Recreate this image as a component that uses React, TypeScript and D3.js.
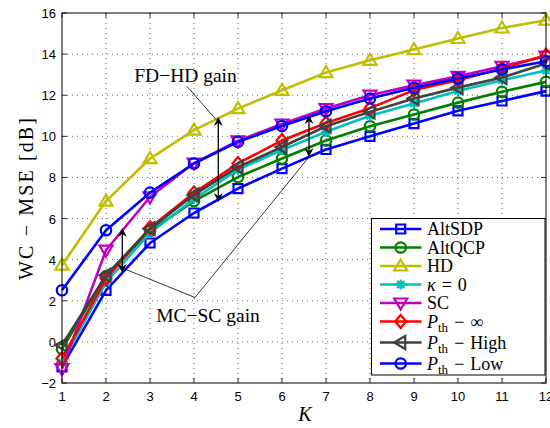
import React from 'react';
import * as d3 from 'd3';

const K = [1, 2, 3, 4, 5, 6, 7, 8, 9, 10, 11, 12];
const Y_TICKS = [-2, 0, 2, 4, 6, 8, 10, 12, 14, 16];

const altSDP = [-1.22, 2.51, 4.81, 6.27, 7.46, 8.43, 9.36, 10.0, 10.62, 11.24, 11.72, 12.2];
const altQCP = [-0.35, 3.2, 5.4, 6.85, 8.02, 8.92, 9.8, 10.49, 11.06, 11.64, 12.17, 12.65];
const hd = [3.73, 6.85, 8.92, 10.3, 11.35, 12.24, 13.1, 13.7, 14.22, 14.76, 15.27, 15.65];
const kappa0 = [-1.0, 2.9, 5.3, 6.95, 8.38, 9.33, 10.22, 11.0, 11.6, 12.2, 12.73, 13.2];
const sc = [-1.3, 4.46, 7.05, 8.7, 9.78, 10.6, 11.35, 12.0, 12.49, 12.92, 13.41, 13.9];
const pthInf = [-0.81, 3.08, 5.55, 7.25, 8.68, 9.8, 10.65, 11.37, 12.25, 12.73, 13.3, 13.95];
const pthHigh = [-0.16, 3.24, 5.51, 7.15, 8.51, 9.48, 10.49, 11.19, 11.84, 12.37, 12.86, 13.54];
const pthLow = [2.51, 5.43, 7.26, 8.68, 9.73, 10.5, 11.22, 11.84, 12.36, 12.81, 13.25, 13.65];

const SERIES = [
    { key: 'altsdp', values: altSDP, color: '#0000ff', marker: 'square' },
    { key: 'altqcp', values: altQCP, color: '#008000', marker: 'circle' },
    { key: 'hd', values: hd, color: '#bfbf00', marker: 'triUp' },
    { key: 'kappa', values: kappa0, color: '#00bfbf', marker: 'star' },
    { key: 'sc', values: sc, color: '#bf00bf', marker: 'triDown' },
    { key: 'inf', values: pthInf, color: '#ff0000', marker: 'diamond' },
    { key: 'high', values: pthHigh, color: '#404040', marker: 'triLeft' },
    { key: 'low', values: pthLow, color: '#0000ff', marker: 'circle' },
];

const margin = { top: 13, right: 3, bottom: 45, left: 62 };
const W = 550;
const H = 428;

const x = d3.scaleLinear().domain([1, 12]).range([margin.left, W - margin.right - 1]);
const y = d3.scaleLinear().domain([-2, 16]).range([H - margin.bottom, margin.top]);

// marker outline centred on 0,0
function markerPath(type: string): string {
    switch (type) {
        case 'square':
            return 'M-4.5,-4.5H4.5V4.5H-4.5Z';
        case 'circle':
            return 'M5.2,0A5.2,5.2 0 1 1 -5.2,0A5.2,5.2 0 1 1 5.2,0Z';
        case 'triUp':
            return 'M0,-6.5L6.5,4.5L-6.5,4.5Z';
        case 'triDown':
            return 'M0,6.5L6.5,-4.5L-6.5,-4.5Z';
        case 'triLeft':
            return 'M-6.5,0L4.5,-6.5L4.5,6.5Z';
        case 'diamond':
            return 'M0,-6.5L5.5,0L0,6.5L-5.5,0Z';
        case 'star':
            return 'M-5,0H5M0,-5V5M-3.6,-3.6L3.6,3.6M-3.6,3.6L3.6,-3.6';
        default:
            return '';
    }
}

const line = d3.line<number>()
    .x((d, i) => x(K[i]))
    .y(d => y(d));

const serif = { fontFamily: "'Liberation Serif', 'Times New Roman', Tinos, 'DejaVu Serif', serif" };
const sans = { fontFamily: "'Liberation Sans', Arial, Helvetica, sans-serif" };

function legendLabel(key: string) {
    const pth = (rest: string) => (
        <>
            <tspan fontStyle="italic">P</tspan>
            <tspan fontSize="13" dy="4">th</tspan>
            <tspan dy="-4" dx="6">−</tspan>
            <tspan dx="6">{rest}</tspan>
        </>
    );
    switch (key) {
        case 'altsdp': return 'AltSDP';
        case 'altqcp': return 'AltQCP';
        case 'hd': return 'HD';
        case 'kappa': return (<><tspan fontStyle="italic">κ</tspan><tspan dx="6">=</tspan><tspan dx="6">0</tspan></>);
        case 'sc': return 'SC';
        case 'inf': return pth('∞');
        case 'high': return pth('High');
        case 'low': return pth('Low');
        default: return key;
    }
}

function Arrow({ ax, y1, y2 }: { ax: number; y1: number; y2: number }) {
    const h = 9;
    const w = 4.5;
    return (
        <g>
            <line x1={ax} x2={ax} y1={y1 + 4} y2={y2 - 4} stroke="#000" strokeWidth={1.3} />
            <path d={`M${ax},${y1}L${ax + w},${y1 + h}L${ax},${y1 + h - 3}L${ax - w},${y1 + h}Z`} fill="#000" />
            <path d={`M${ax},${y2}L${ax + w},${y2 - h}L${ax},${y2 - h + 3}L${ax - w},${y2 - h}Z`} fill="#000" />
        </g>
    );
}

export default function App() {
    const left = margin.left;
    const right = W - margin.right - 1;
    const top = margin.top;
    const bottom = H - margin.bottom;

    const legendY = (i: number) => 229 + i * 18.5 + (i >= 6 ? (i - 5) * 2.5 : 0);

    return (
        <svg width={W} height={H} style={{ position: 'absolute', left: 0, top: 0, background: '#fff' }}>
            {/* grid */}
            <g stroke="#000" strokeWidth={0.6} strokeDasharray="1,4">
                {K.slice(1, -1).map(k => (
                    <line key={'gx' + k} x1={x(k)} x2={x(k)} y1={top} y2={bottom} />
                ))}
                {Y_TICKS.slice(1, -1).map(t => (
                    <line key={'gy' + t} x1={left} x2={right} y1={y(t)} y2={y(t)} />
                ))}
            </g>
            {/* ticks */}
            <g stroke="#000" strokeWidth={0.8}>
                {K.map(k => (
                    <g key={'tx' + k}>
                        <line x1={x(k)} x2={x(k)} y1={bottom} y2={bottom - 5} />
                        <line x1={x(k)} x2={x(k)} y1={top} y2={top + 5} />
                    </g>
                ))}
                {Y_TICKS.map(t => (
                    <g key={'ty' + t}>
                        <line x1={left} x2={left + 5} y1={y(t)} y2={y(t)} />
                        <line x1={right} x2={right - 5} y1={y(t)} y2={y(t)} />
                    </g>
                ))}
            </g>
            <g style={sans} fontSize={13} fill="#000">
                {K.map(k => (
                    <text key={'lx' + k} x={x(k)} y={bottom + 18} textAnchor="middle">{k}</text>
                ))}
                {Y_TICKS.map(t => (
                    <text key={'ly' + t} x={left - 6} y={y(t) + 5} textAnchor="end">{t < 0 ? '−' + Math.abs(t) : t}</text>
                ))}
            </g>
            {/* series */}
            {SERIES.map(s => (
                <g key={s.key}>
                    <path d={line(s.values) || ''} fill="none" stroke={s.color} strokeWidth={2.6} strokeLinejoin="round" />
                    {s.values.map((v, i) => (
                        <path key={i} d={markerPath(s.marker)} transform={`translate(${x(K[i])},${y(v)})`}
                            fill="none" stroke={s.color} strokeWidth={2.2} />
                    ))}
                </g>
            ))}
            {/* annotations */}
            <Arrow ax={218.3} y1={117} y2={202} />
            <Arrow ax={309} y1={115} y2={157} />
            <Arrow ax={122.3} y1={228} y2={273} />
            <line x1={186.7} y1={86} x2={216.5} y2={120} stroke="#000" strokeWidth={0.8} />
            <polyline points="126,269.5 195,297.5 309,157" fill="none" stroke="#000" strokeWidth={0.8} />
            <text x={185.5} y={82} textAnchor="middle" style={serif} fontSize={19.5}>FD−HD gain</text>
            <text x={208} y={321.5} textAnchor="middle" style={serif} fontSize={19.5}>MC−SC gain</text>
            {/* frame */}
            <rect x={left} y={top} width={right - left} height={bottom - top} fill="none" stroke="#000" strokeWidth={1} />
            {/* legend */}
            <rect x={371.5} y={218.5} width={173.5} height={156.5} fill="#fff" stroke="#000" strokeWidth={1} />
            {SERIES.map((s, i) => (
                <g key={'lg' + s.key}>
                    <line x1={380} x2={421.5} y1={legendY(i)} y2={legendY(i)} stroke={s.color} strokeWidth={2.6} />
                    <path d={markerPath(s.marker)} transform={`translate(400.7,${legendY(i)})`}
                        fill="none" stroke={s.color} strokeWidth={2.2} />
                    <text x={427} y={legendY(i) + 6} style={serif} fontSize={18}>{legendLabel(s.key)}</text>
                </g>
            ))}
            {/* axis labels */}
            <text x={305} y={421} textAnchor="middle" style={serif} fontSize={20} fontStyle="italic">K</text>
            <text transform="translate(33,199) rotate(-90)" textAnchor="middle" style={serif} fontSize={20}
                textLength={162} lengthAdjust="spacing">WC − MSE  [dB]</text>
        </svg>
    );
}
